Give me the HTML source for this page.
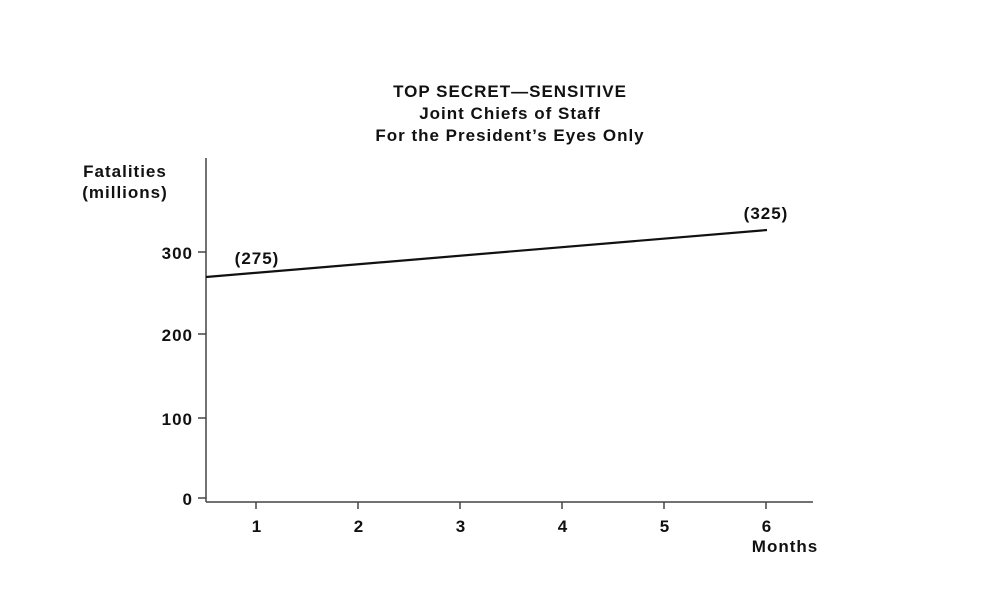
<!DOCTYPE html>
<html><head><style>
body{margin:0;background:#fff;}
svg{display:block;font-family:"Liberation Sans",Arial,sans-serif;font-weight:bold;fill:#111;letter-spacing:1px;}
</style></head><body>
<svg width="991" height="596" viewBox="0 0 991 596">
<g font-size="17" text-anchor="middle">
<text x="510" y="97">TOP SECRET—SENSITIVE</text>
<text x="510" y="119">Joint Chiefs of Staff</text>
<text x="510" y="141">For the President’s Eyes Only</text>
<text x="125" y="177">Fatalities</text>
<text x="125" y="198">(millions)</text>
</g>
<g stroke="#444" stroke-width="1.5" fill="none">
<line x1="206" y1="158" x2="206" y2="502"/>
<line x1="206" y1="502" x2="813" y2="502"/>
<line x1="198" y1="252" x2="206" y2="252"/>
<line x1="198" y1="334" x2="206" y2="334"/>
<line x1="198" y1="418" x2="206" y2="418"/>
<line x1="198" y1="498" x2="206" y2="498"/>
<line x1="256" y1="502" x2="256" y2="509"/>
<line x1="358" y1="502" x2="358" y2="509"/>
<line x1="460" y1="502" x2="460" y2="509"/>
<line x1="562" y1="502" x2="562" y2="509"/>
<line x1="664" y1="502" x2="664" y2="509"/>
<line x1="766" y1="502" x2="766" y2="509"/>
</g>
<line x1="206" y1="277" x2="767" y2="230" stroke="#111" stroke-width="2.2"/>
<g font-size="17" text-anchor="end">
<text x="193" y="259">300</text>
<text x="193" y="341">200</text>
<text x="193" y="425">100</text>
<text x="193" y="505">0</text>
</g>
<g font-size="17" text-anchor="middle">
<text x="257" y="532">1</text>
<text x="359" y="532">2</text>
<text x="461" y="532">3</text>
<text x="563" y="532">4</text>
<text x="665" y="532">5</text>
<text x="767" y="532">6</text>
<text x="785" y="552">Months</text>
<text x="257" y="264">(275)</text>
<text x="766" y="219">(325)</text>
</g>
</svg>
</body></html>
